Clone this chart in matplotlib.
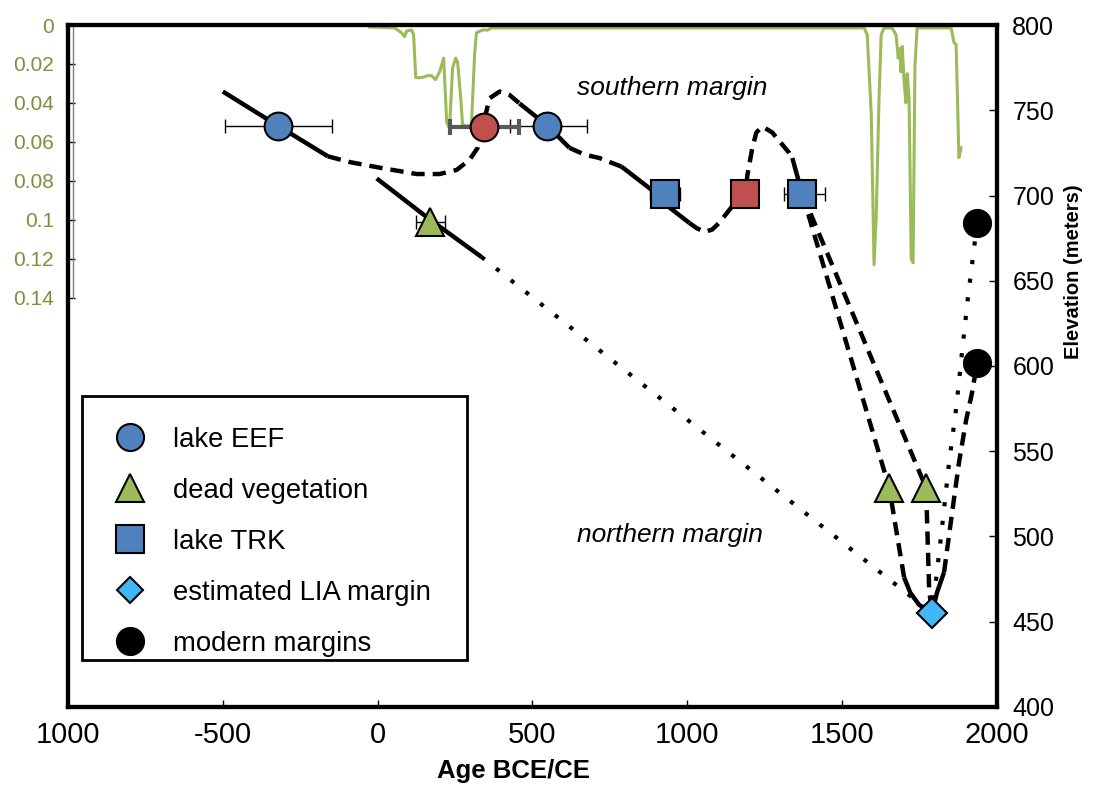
import matplotlib.pyplot as plt
import numpy as np
from matplotlib.lines import Line2D
from matplotlib.patches import Rectangle
from matplotlib import font_manager

# fonts: narrow face for the x axis if it exists
names = {f.name for f in font_manager.fontManager.ttflist}
narrow = 'Liberation Sans Narrow' if 'Liberation Sans Narrow' in names else 'Liberation Sans'
plt.rcParams['font.family'] = ['Liberation Sans', 'DejaVu Sans']

# ---- data (age in years BCE/CE, elevation in m) ----
eef_age = [-323, 548]
eef_elev = [741, 741]
eef_xerr = [[171, 122], [175, 129]]

red_circle_age = [342]
red_circle_elev = [740]
red_circle_xerr = [[110], [116]]

red_square_age = [1187]
red_square_elev = [701]

veg_age = [168, 1652, 1771]
veg_elev = [684.5, 528.5, 528.5]
veg_xerr = [[45, 0, 0], [51, 0, 0]]

trk_age = [929, 1371]
trk_elev = [701, 701]
trk_xerr = [[48, 58], [48, 74]]

lia_age = [1790]
lia_elev = [455]

modern_age = [1936, 1936]
modern_elev = [684, 602]

# southern margin reconstruction
s_solid1_x = [-500, -323, -161]
s_solid1_y = [761, 741, 723]
s_dash1_x = [-161, -90, 16, 126, 200, 255, 297, 323, 352, 361, 394, 426, 458]
s_dash1_y = [723, 719.6, 716, 712.6, 712.6, 715, 721, 728, 750, 757, 761, 759, 754]
s_solid2_x = [458, 548, 619]
s_solid2_y = [754, 741, 728]
s_dash2_x = [619, 668, 716, 758, 787]
s_dash2_y = [728, 724, 722, 719, 717]
s_solid3_x = [787, 887, 929, 942, 1006]
s_solid3_y = [717, 703, 701, 693, 684]
s_dash3_x = [1006, 1029, 1055, 1080, 1103, 1142, 1187, 1194, 1210, 1223, 1242, 1274, 1329, 1339]
s_dash3_y = [684, 681, 678.6, 680, 684, 693, 701, 712, 728, 737, 740.5, 737, 725, 722]
s_solid4_x = [1339, 1371]
s_solid4_y = [722, 701]
br_a_x = [1371, 1771, 1781, 1790]
br_a_y = [701, 528.5, 468.6, 455]
br_b_x = [1371, 1652, 1700]
br_b_y = [701, 528.5, 476]
br_b_solid_x = [1700, 1720, 1748, 1790]
br_b_solid_y = [476, 467, 460, 455]
up_solid_x = [1790, 1806, 1829]
up_solid_y = [455, 467, 479]
up_dash_x = [1829, 1855, 1877, 1900, 1919, 1936]
up_dash_y = [479, 514, 543, 568, 584, 602]
mod_dot_x = [1936, 1906, 1887, 1868, 1845, 1826, 1806, 1795]
mod_dot_y = [684, 640, 608, 575, 543, 511, 479, 462]

# northern margin
n_solid_x = [-3, 168, 335]
n_solid_y = [710, 686, 664]
n_dot_x = [335, 1790]
n_dot_y = [664, 455]

# green record (left axis, inverted)
g1_age = [-26, 55, 77, 87, 94, 110, 116, 123, 142, 161, 174, 187, 200, 213, 223, 232,
          242, 252, 258, 268, 274, 287, 303, 313, 319, 339, 355, 368, 1571]
g1_val = [0.001, 0.0015, 0.004, 0.006, 0.003, 0.0026, 0.005, 0.027, 0.027, 0.026, 0.026,
          0.028, 0.024, 0.017, 0.050, 0.053, 0.022, 0.017, 0.019, 0.037, 0.051, 0.052,
          0.051, 0.015, 0.004, 0.0025, 0.0026, 0.0015, 0.0015]
g2_age = [1571, 1581, 1594, 1603, 1610, 1619, 1626, 1635, 1661, 1674, 1681, 1687, 1690,
          1694, 1700, 1706, 1710, 1716, 1723, 1729, 1735, 1742, 1755, 1852, 1861, 1868,
          1871, 1877, 1884]
g2_val = [0.0015, 0.005, 0.046, 0.123, 0.098, 0.038, 0.005, 0.0015, 0.0015, 0.005, 0.017,
          0.012, 0.024, 0.011, 0.029, 0.040, 0.025, 0.037, 0.120, 0.122, 0.021, 0.0015,
          0.0015, 0.0015, 0.009, 0.010, 0.029, 0.068, 0.063]

x_ticks = [-1000, -500, 0, 500, 1000, 1500, 2000]
x_labels = ['1000', '-500', '0', '500', '1000', '1500', '2000']
g_ticks = [0, 0.02, 0.04, 0.06, 0.08, 0.1, 0.12, 0.14]
g_labels = ['0', '0.02', '0.04', '0.06', '0.08', '0.1', '0.12', '0.14']
e_ticks = [400, 450, 500, 550, 600, 650, 700, 750, 800]

blue = '#4F81BD'
red = '#C0504D'
green = '#9BBB59'
lgreen_txt = '#77933C'
cyan = '#40B8F5'

fig = plt.figure(figsize=(10.95, 7.87), dpi=100)
axg = fig.add_axes([0.0621, 0.1017, 0.8484, 0.8665])
ax = axg.twinx()

# green axis
axg.set_xlim(-1000, 2000)
axg.set_ylim(0.35, 0)
axg.plot(g1_age, g1_val, color=green, lw=2.2, solid_joinstyle='round')
axg.plot(g2_age, g2_val, color=green, lw=2.2, solid_joinstyle='round')
axg.set_yticks(g_ticks)
axg.set_yticklabels(g_labels, color=lgreen_txt, fontsize=15)
axg.tick_params(axis='y', direction='in', length=5, width=1, pad=10)
axg.plot([-985, -985], [0.0, 0.14], color='#808080', lw=1, clip_on=False)
axg.set_xticks(x_ticks)
axg.set_xticklabels(x_labels, fontsize=21, family=[narrow, 'DejaVu Sans'])
axg.tick_params(axis='x', direction='in', length=5, width=1, pad=10)
for s in axg.spines.values():
    s.set_linewidth(3)

# elevation axis
ax.set_xlim(-1000, 2000)
ax.set_ylim(400, 800)
ax.set_yticks(e_ticks)
ax.tick_params(axis='y', direction='in', length=6, width=1, labelsize=18, pad=11)
for s in ax.spines.values():
    s.set_linewidth(3)

lw = 3.2
dash = (0, (3, 1.8))
dot = (0, (1, 3.5))
for xs, ys in [(s_solid1_x, s_solid1_y), (s_solid2_x, s_solid2_y), (s_solid3_x, s_solid3_y),
               (s_solid4_x, s_solid4_y), (br_b_solid_x, br_b_solid_y), (up_solid_x, up_solid_y),
               (n_solid_x, n_solid_y)]:
    ax.plot(xs, ys, color='black', lw=lw, solid_capstyle='butt')
for xs, ys in [(s_dash1_x, s_dash1_y), (s_dash2_x, s_dash2_y), (s_dash3_x, s_dash3_y),
               (br_a_x, br_a_y), (br_b_x, br_b_y), (up_dash_x, up_dash_y)]:
    ax.plot(xs, ys, color='black', lw=lw, linestyle=dash)
for xs, ys in [(mod_dot_x, mod_dot_y), (n_dot_x, n_dot_y)]:
    ax.plot(xs, ys, color='black', lw=3, linestyle=dot)

eb = dict(fmt='none', ecolor='black', elinewidth=1, capsize=5, capthick=1, zorder=3)
ax.errorbar(eef_age, eef_elev, xerr=eef_xerr, **eb)
ax.errorbar(veg_age[:1], veg_elev[:1], xerr=[veg_xerr[0][:1], veg_xerr[1][:1]], **eb)
ax.errorbar(trk_age, trk_elev, xerr=trk_xerr, **eb)
ax.errorbar(red_circle_age, red_circle_elev, xerr=red_circle_xerr, fmt='none',
            ecolor='#595959', elinewidth=3, capsize=6, capthick=3, zorder=3)

mk = dict(linestyle='none', markeredgecolor='black', markeredgewidth=1.5, zorder=5)
ax.plot(eef_age, eef_elev, marker='o', ms=20, color=blue, **mk)
ax.plot(red_circle_age, red_circle_elev, marker='o', ms=20, color=red, **mk)
ax.plot(veg_age, veg_elev, marker='^', ms=20, color=green, **mk)
ax.plot(trk_age, trk_elev, marker='s', ms=19.5, color=blue, **mk)
ax.plot(red_square_age, red_square_elev, marker='s', ms=19.5, color=red, **mk)
ax.plot(lia_age, lia_elev, marker='D', ms=15, color=cyan, **mk)
ax.plot(modern_age, modern_elev, marker='o', ms=19.5, color='black', **mk)

ax.text(645, 763, 'southern margin', style='italic', fontsize=19, va='center')
ax.text(645, 501, 'northern margin', style='italic', fontsize=19, va='center')

# legend: entries without frame, frame drawn as its own box
handles = [
    Line2D([], [], marker='o', ms=19.5, color=blue, mec='black', mew=1.5, ls='none'),
    Line2D([], [], marker='^', ms=19.5, color=green, mec='black', mew=1.5, ls='none'),
    Line2D([], [], marker='s', ms=19.5, color=blue, mec='black', mew=1.5, ls='none'),
    Line2D([], [], marker='D', ms=13.5, color=cyan, mec='black', mew=1.5, ls='none'),
    Line2D([], [], marker='o', ms=19.5, color='black', mec='black', mew=1.5, ls='none'),
]
leg_labels = ['lake EEF', 'dead vegetation', 'lake TRK', 'estimated LIA margin', 'modern margins']
leg = ax.legend(handles, leg_labels, loc='upper left', bbox_to_anchor=(0.0517, 0.4106),
                fontsize=19.8, frameon=False, borderpad=0, labelspacing=0.905,
                handletextpad=1.05, borderaxespad=0, handlelength=1.02)
leg.set_zorder(10)
ax.add_patch(Rectangle((0.0151, 0.0689), 0.4144, 0.3871, transform=ax.transAxes,
                       facecolor='white', edgecolor='black', lw=2, zorder=9))

axg.set_xlabel('Age BCE/CE', fontsize=18.5, fontweight='bold', family=[narrow, 'DejaVu Sans'])
axg.xaxis.set_label_coords(0.48, -0.077)
ax.set_ylabel('Elevation (meters)', fontsize=14.5, fontweight='bold',
              family=[narrow, 'DejaVu Sans'])
ax.yaxis.set_label_coords(1.072, 0.638)

fig.savefig('out.png', dpi=100)
